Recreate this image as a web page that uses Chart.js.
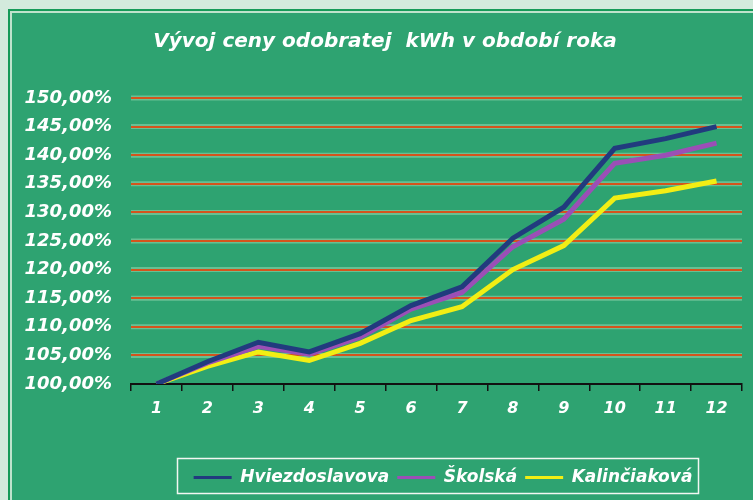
<!DOCTYPE html>
<html>
<head>
<meta charset="utf-8">
<script src="https://cdn.jsdelivr.net/npm/chart.js@4.4.1/dist/chart.umd.min.js"></script>
<style>
  html, body { margin: 0; padding: 0; background: #d3eadc; }
  #wrap { width: 753px; height: 500px; position: relative; }
</style>
</head>
<body>
<div id="wrap"><canvas id="myChart" width="753" height="500"></canvas></div>
<script>
var months = ["1", "2", "3", "4", "5", "6", "7", "8", "9", "10", "11", "12"];
var hviezdoslavova = [100, 103.9, 107.3, 105.6, 108.8, 113.7, 117.0, 125.5, 130.9, 141.2, 142.9, 145.0];
var skolska = [100, 103.7, 106.6, 105.2, 108.2, 113.1, 116.0, 124.0, 128.8, 138.6, 140.0, 142.1];
var kalinciakova = [100, 103.1, 105.6, 104.1, 107.1, 111.1, 113.5, 120.0, 124.2, 132.5, 133.8, 135.5];
var yLabels = ["100,00%", "105,00%", "110,00%", "115,00%", "120,00%", "125,00%",
               "130,00%", "135,00%", "140,00%", "145,00%", "150,00%"];

var FONT = "'DejaVu Sans', Verdana, sans-serif";
var PANEL = "#2ea371";

// frame + panel background, plus light halo round the grid lines
var backdrop = {
  id: 'backdrop',
  beforeDraw: function(chart) {
    var ctx = chart.ctx;
    ctx.save();
    ctx.fillStyle = "#d3eadc";
    ctx.fillRect(0, 0, chart.width, chart.height);
    ctx.fillStyle = "#169a58";
    ctx.fillRect(8, 9, chart.width, chart.height);
    ctx.fillStyle = "#bfe3cc";
    ctx.fillRect(10, 11, chart.width, chart.height);
    ctx.fillStyle = PANEL;
    ctx.fillRect(12, 13, chart.width, chart.height);
    var y = chart.scales.y, a = chart.chartArea;
    ctx.strokeStyle = "rgba(190,235,200,0.4)";
    ctx.lineWidth = 5;
    y.ticks.forEach(function(t) {
      if (t.value === 100) return;
      var py = y.getPixelForValue(t.value);
      ctx.beginPath();
      ctx.moveTo(a.left, py);
      ctx.lineTo(a.right, py);
      ctx.stroke();
    });
    ctx.restore();
  }
};

// title and legend sit right of centre in the original
var boxShift = {
  id: 'boxShift',
  afterLayout: function(chart) {
    var lg = chart.legend;
    lg.left += 72;
    lg.right += 72;
    var tb = chart.titleBlock;
    if (tb) { tb.left += 14; tb.right += 14; }
  }
};

// white rectangle round the legend
var legendFrame = {
  id: 'legendFrame',
  afterDraw: function(chart) {
    var hb = chart.legend.legendHitBoxes;
    if (!hb || !hb.length) return;
    var l = hb[0].left, r = hb[hb.length - 1].left + hb[hb.length - 1].width;
    var t = hb[0].top, h = hb[0].height;
    var ctx = chart.ctx;
    ctx.save();
    ctx.strokeStyle = "#f2f7f2";
    ctx.lineWidth = 1.5;
    ctx.strokeRect(Math.round(l - 17) + 0.5, Math.round(t - 11) + 0.5, Math.round(r - l + 22), Math.round(h + 18));
    ctx.restore();
  }
};

var config = {
  type: 'line',
  data: {
    labels: months,
    datasets: [{
      label: "Hviezdoslavova",
      data: hviezdoslavova,
      borderColor: "#213b7e",
      backgroundColor: "#213b7e"
    }, {
      label: "Školská",
      data: skolska,
      borderColor: "#9b4fb6",
      backgroundColor: "#9b4fb6"
    }, {
      label: "Kalinčiaková",
      data: kalinciakova,
      borderColor: "#f2ee14",
      backgroundColor: "#f2ee14"
    }]
  },
  options: {
    responsive: false,
    animation: false,
    layout: { padding: { left: 0, right: 11, top: 0, bottom: 4 } },
    elements: {
      line: { borderWidth: 5, tension: 0, fill: false, borderJoinStyle: 'miter' },
      point: { radius: 0 }
    },
    scales: {
      x: {
        offset: true,
        afterFit: function(scale) { scale.height = 77; },
        grid: { offset: true, drawOnChartArea: false, color: "#111", tickLength: 7, lineWidth: 1.5 },
        border: { color: "#111", width: 2 },
        ticks: { color: "#fff", padding: 8, font: { family: FONT, size: 16, style: 'italic', weight: 'bold' } }
      },
      y: {
        min: 100,
        max: 150,
        afterFit: function(scale) { scale.width = 131; },
        grid: { color: "#d4541c", lineWidth: 2, drawTicks: false },
        border: { display: false },
        ticks: {
          stepSize: 5,
          color: "#fff",
          padding: 19,
          font: { family: FONT, size: 18, style: 'italic', weight: 'bold' },
          callback: function(v, i) { return yLabels[i]; }
        }
      }
    },
    plugins: {
      title: {
        display: true,
        text: "Vývoj ceny odobratej  kWh v období roka",
        color: "#fff",
        font: { family: FONT, size: 20, style: 'italic', weight: 'bold' },
        padding: { top: 30, bottom: 44 }
      },
      legend: {
        position: 'bottom',
        labels: {
          color: "#fff",
          boxWidth: 38,
          boxHeight: 3,
          padding: 8,
          font: { family: FONT, size: 17, style: 'italic', weight: 'bold' },
          generateLabels: function(chart) {
            var items = Chart.defaults.plugins.legend.labels.generateLabels(chart);
            items.forEach(function(it) { it.lineWidth = 0; it.fillStyle = it.strokeStyle; });
            return items;
          }
        }
      },
      tooltip: { enabled: false }
    }
  },
  plugins: [backdrop, boxShift, legendFrame]
};

var myChart = new Chart(document.getElementById("myChart").getContext("2d"), config);
</script>
</body>
</html>
